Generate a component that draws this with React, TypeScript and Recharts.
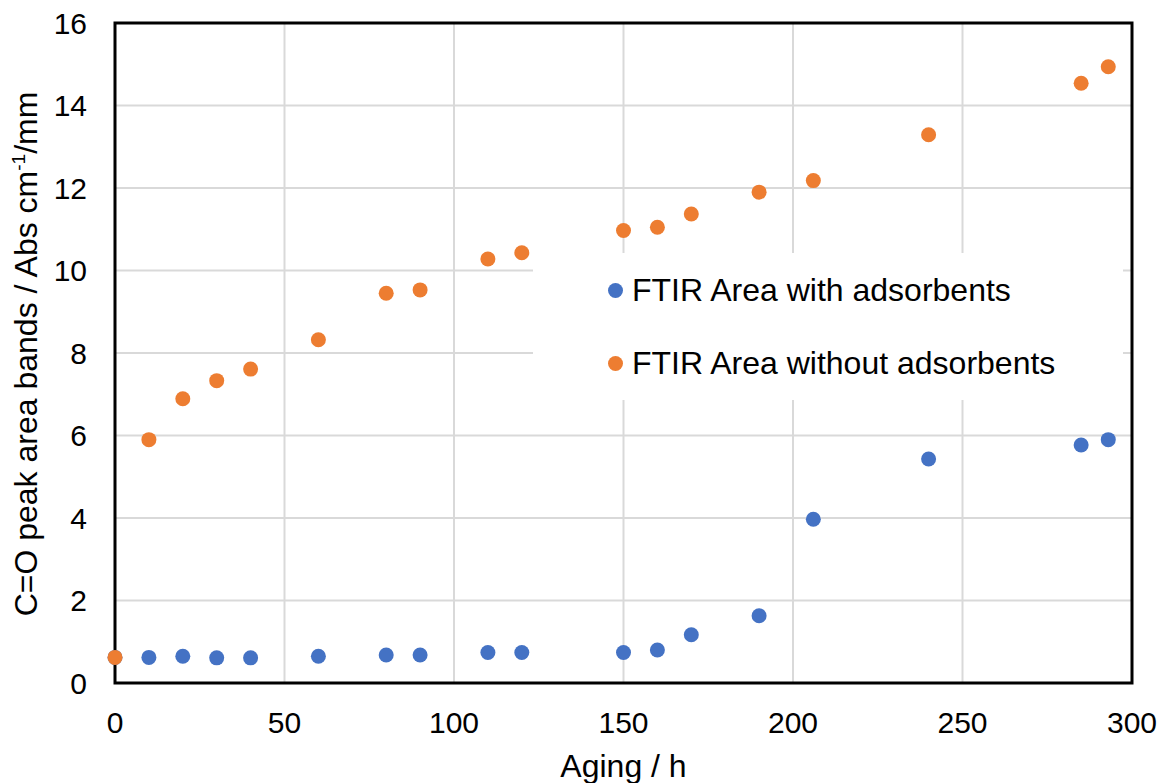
import React from 'react';
import {
  ScatterChart,
  Scatter,
  XAxis,
  YAxis,
  CartesianGrid,
  Legend,
  ReferenceArea,
} from 'recharts';

const agingHours = [0, 10, 20, 30, 40, 60, 80, 90, 110, 120, 150, 160, 170, 190, 206, 240, 285, 293];
const withAdsorbents = [0.62, 0.62, 0.65, 0.61, 0.61, 0.65, 0.68, 0.68, 0.74, 0.74, 0.74, 0.8, 1.17, 1.63, 3.97, 5.43, 5.77, 5.9];
const withoutAdsorbents = [0.62, 5.9, 6.89, 7.33, 7.61, 8.32, 9.45, 9.53, 10.28, 10.43, 10.97, 11.05, 11.37, 11.9, 12.18, 13.29, 14.54, 14.94];

const xTicks = [0, 50, 100, 150, 200, 250, 300];
const yTicks = [0, 2, 4, 6, 8, 10, 12, 14, 16];

const BLUE = '#4472C4';
const ORANGE = '#ED7D31';
const FONT = '"Liberation Sans", Arial, sans-serif';

const withData = agingHours.map((h, i) => ({ h, v: withAdsorbents[i] }));
const withoutData = agingHours.map((h, i) => ({ h, v: withoutAdsorbents[i] }));

const dot = (color: string) => (p: any) => <circle cx={p.cx} cy={p.cy} r={7.5} fill={color} />;

// rotated y title with the cm-1 superscript
function YTitle() {
  const cy = 354;
  const x = 37;
  return (
    <text
      x={x}
      y={cy}
      transform={`rotate(-90 ${x} ${cy})`}
      textAnchor="middle"
      fontFamily={FONT}
      fontSize={32}
      fill="#000"
    >
      C=O peak area bands / Abs cm
      <tspan fontSize={19} dy={-12}>-1</tspan>
      <tspan dy={12}>/mm</tspan>
    </text>
  );
}

function LegendBox({ payload }: any) {
  return (
    <div style={{ width: '100%', height: '100%', background: '#fff', position: 'relative' }}>
      {(payload || []).map((e: any, i: number) => (
        <div
          key={e.value}
          style={{
            position: 'absolute',
            left: 75,
            top: 19 + i * 73,
            display: 'flex',
            alignItems: 'center',
            fontFamily: FONT,
            fontSize: 32,
            color: '#000',
            whiteSpace: 'nowrap',
          }}
        >
          <span
            style={{
              display: 'inline-block',
              width: 15,
              height: 15,
              borderRadius: '50%',
              background: e.color,
              marginRight: 9,
            }}
          />
          {e.value}
        </div>
      ))}
    </div>
  );
}

export default function App() {
  return (
    <div style={{ position: 'fixed', left: 0, top: 0, background: '#fff' }}>
      <ScatterChart width={1162} height={783} margin={{ top: 23, right: 30, bottom: 0, left: 0 }}>
        <CartesianGrid stroke="#d9d9d9" strokeWidth={2} />
        <XAxis
          type="number"
          dataKey="h"
          domain={[0, 300]}
          ticks={xTicks}
          height={100}
          axisLine={false}
          tickLine={false}
          tickSize={0}
          tickMargin={29}
          tick={{ fontSize: 30, fill: '#000', fontFamily: FONT }}
          label={{ value: 'Aging / h', position: 'insideBottom', offset: 6, fontSize: 32, fill: '#000', fontFamily: FONT }}
        />
        <YAxis
          type="number"
          dataKey="v"
          domain={[0, 16]}
          ticks={yTicks}
          width={115}
          axisLine={false}
          tickLine={false}
          tickSize={0}
          tickMargin={28}
          tick={{ fontSize: 30, fill: '#000', fontFamily: FONT }}
          label={<YTitle />}
        />
        <ReferenceArea x1={0} x2={300} y1={0} y2={16} fill="none" stroke="#000" strokeWidth={3} fillOpacity={0} ifOverflow="visible" />
        <Legend
          layout="vertical"
          align="center"
          verticalAlign="middle"
          content={<LegendBox />}
          wrapperStyle={{ position: 'absolute', left: 533, top: 253, width: 590, height: 147 }}
        />
        <Scatter name="FTIR Area with adsorbents" data={withData} fill={BLUE} shape={dot(BLUE)} isAnimationActive={false} />
        <Scatter name="FTIR Area without adsorbents" data={withoutData} fill={ORANGE} shape={dot(ORANGE)} isAnimationActive={false} />
      </ScatterChart>
    </div>
  );
}
